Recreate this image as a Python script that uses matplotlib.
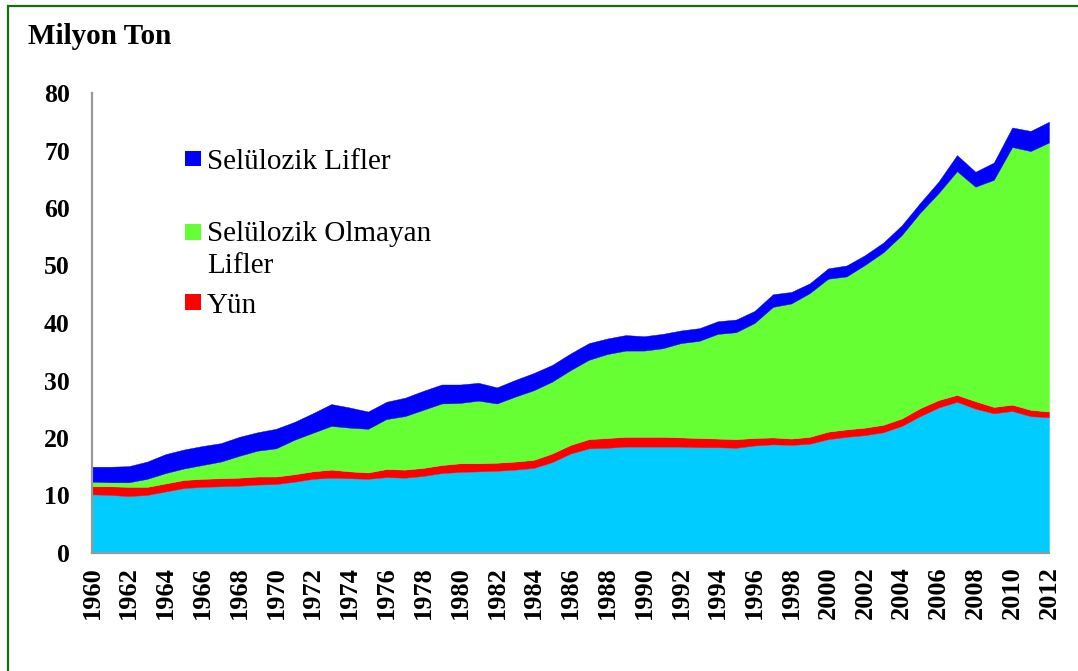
import matplotlib
matplotlib.use("Agg")
import matplotlib.pyplot as plt
from matplotlib.patches import Rectangle

years = list(range(1960, 2013))

# Pamuk (cyan, unlabeled), Yün, Selülozik Olmayan Lifler, Selülozik Lifler (million tons)
cotton = [10.2, 10.1, 9.9, 10.1, 10.7, 11.3, 11.5, 11.6, 11.7, 11.9,
          12.0, 12.4, 12.9, 13.1, 13.0, 12.9, 13.2, 13.1, 13.4, 13.9,
          14.1, 14.2, 14.3, 14.5, 14.8, 15.8, 17.3, 18.2, 18.3, 18.5,
          18.5, 18.5, 18.5, 18.4, 18.4, 18.3, 18.7, 18.9, 18.8, 19.0,
          19.8, 20.2, 20.5, 21.0, 22.1, 23.8, 25.3, 26.3, 25.1, 24.3,
          24.7, 23.8, 23.6]
wool = [1.4, 1.5, 1.6, 1.4, 1.4, 1.4, 1.4, 1.4, 1.4, 1.4,
        1.3, 1.3, 1.3, 1.4, 1.2, 1.1, 1.4, 1.4, 1.4, 1.4,
        1.5, 1.4, 1.4, 1.4, 1.4, 1.5, 1.5, 1.6, 1.7, 1.7,
        1.7, 1.7, 1.6, 1.6, 1.5, 1.5, 1.3, 1.2, 1.1, 1.2,
        1.3, 1.3, 1.3, 1.3, 1.3, 1.4, 1.3, 1.2, 1.3, 1.1,
        1.1, 1.1, 1.0]
noncellulosic = [0.8, 0.7, 0.8, 1.4, 1.8, 2.0, 2.4, 2.9, 3.8, 4.5,
                 4.9, 6.0, 6.7, 7.6, 7.6, 7.6, 8.7, 9.3, 10.1, 10.7,
                 10.5, 10.9, 10.3, 11.3, 12.1, 12.5, 13.0, 13.8, 14.6, 15.0,
                 15.0, 15.4, 16.4, 16.9, 18.2, 18.6, 20.0, 22.7, 23.5, 25.0,
                 26.6, 26.6, 28.3, 30.0, 31.9, 34.0, 36.0, 38.9, 37.3, 39.5,
                 44.8, 45.0, 46.8]
cellulosic = [2.6, 2.7, 2.8, 3.0, 3.3, 3.3, 3.3, 3.2, 3.3, 3.2,
              3.4, 3.1, 3.4, 3.8, 3.5, 3.0, 3.0, 3.2, 3.3, 3.3,
              3.2, 3.1, 2.8, 2.9, 3.0, 2.9, 2.9, 2.9, 2.7, 2.7,
              2.5, 2.5, 2.2, 2.2, 2.2, 2.2, 2.1, 2.2, 2.0, 1.7,
              1.8, 1.9, 1.7, 1.7, 1.7, 1.7, 2.0, 2.8, 2.6, 3.0,
              3.4, 3.5, 3.6]

legend_labels = ["Selülozik Lifler", "Selülozik Olmayan\nLifler", "Yün"]
title = "Milyon Ton"
yticks = [0, 10, 20, 30, 40, 50, 60, 70, 80]
xticks = list(range(1960, 2013, 2))

c_cotton = "#00CCFF"
c_wool = "#FF0000"
c_noncell = "#66FF33"
c_cell = "#0000FF"

W, H = 1078, 671
SERIF = ["Liberation Serif", "DejaVu Serif"]

def fx(x):
    return x / W

def fy(y):
    return 1 - y / H

fig = plt.figure(figsize=(W / 100, H / 100), dpi=100)
ax = fig.add_axes([fx(92), fy(553), (1049 - 92) / W, (553 - 93) / H])

ax.stackplot(years, cotton, wool, noncellulosic, cellulosic,
             colors=[c_cotton, c_wool, c_noncell, c_cell],
             linewidth=0.3, edgecolor="face")

ax.set_xlim(1960, 2012)
ax.set_ylim(0, 80)
ax.set_yticks(yticks)
ax.set_xticks(xticks)
ax.set_xticklabels([str(t) for t in xticks], rotation=90,
                   fontsize=19, fontweight="bold", family=SERIF)
ax.set_yticklabels([str(t) for t in yticks],
                   fontsize=18.5, fontweight="bold", family=SERIF)
ax.tick_params(axis="both", length=0)
ax.tick_params(axis="y", pad=16)
ax.tick_params(axis="x", pad=9.5)

for s in ["top", "right"]:
    ax.spines[s].set_visible(False)
for s in ["left", "bottom"]:
    ax.spines[s].set_color("#999999")
    ax.spines[s].set_linewidth(1.6)
ax.set_zorder(2)

# Title
fig.text(fx(28), fy(44), title, fontsize=21, fontweight="bold",
         family=SERIF, va="baseline", ha="left")

# Manual legend
legend_colors = [c_cell, c_noncell, c_wool]
marker_tops = [150.7, 224, 294]
baselines = [169.3, 241, 312.7]
line_pitch = 32.3
for lab, col, mt, bl in zip(legend_labels, legend_colors, marker_tops, baselines):
    fig.add_artist(Rectangle((fx(185), fy(mt + 15.5)), 16 / W, 15.5 / H,
                             transform=fig.transFigure, facecolor=col,
                             edgecolor="none", zorder=5))
    for i, line in enumerate(lab.split("\n")):
        fig.text(fx(207), fy(bl + i * line_pitch), line, fontsize=21,
                 family=SERIF, va="baseline", ha="left", zorder=5)

# Outer dark-green border (cropped on right/bottom)
fig.add_artist(Rectangle((fx(8), -0.1), 1.2, fy(6) + 0.1,
                         transform=fig.transFigure, facecolor="none",
                         edgecolor="#117011", linewidth=1.6, zorder=10))

fig.savefig("out.png", dpi=100)
